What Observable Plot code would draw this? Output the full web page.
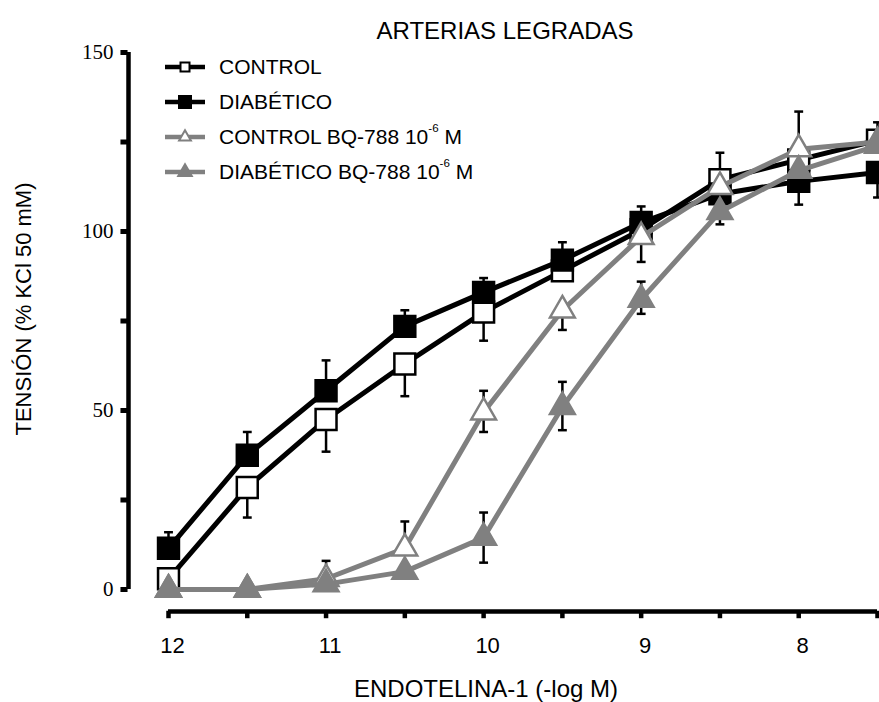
<!DOCTYPE html>
<html>
<head>
<meta charset="utf-8">
<script src="https://cdn.jsdelivr.net/npm/d3@7"></script>
<script src="https://cdn.jsdelivr.net/npm/@observablehq/plot@0.6"></script>
<style>
  html, body { margin: 0; padding: 0; background: white; overflow: hidden; }
  #wrap { position: relative; width: 879px; height: 702px; font-family: "Liberation Sans", Arial, sans-serif; }
  #legend { position: absolute; left: 160px; top: 49px; }
  .row { display: flex; align-items: center; height: 35px; font-size: 21px; color: #000; white-space: nowrap; }
  .row svg { display: block; }
  .row span.t { margin-left: 11px; }
  sup { font-size: 0.55em; position: relative; top: -0.2em; vertical-align: top; }
</style>
</head>
<body>
<div id="wrap"></div>
<script>
// ---------- data ----------
const conc = [12, 11.5, 11, 10.5, 10, 9.5, 9, 8.5, 8, 7.5];           // -log M
const xTicks = [12, 11.5, 11, 10.5, 10, 9.5, 9, 8.5, 8, 7.5];
const xTickLabels = [12, 11, 10, 9, 8];
const yTicks = [0, 25, 50, 75, 100, 125, 150];
const yTickLabels = [0, 50, 100, 150];

const seriesNames = ["CONTROL", "DIABÉTICO", "CONTROL BQ-788 10-6 M", "DIABÉTICO BQ-788 10-6 M"];

const control      = [3, 28.5, 47.5, 63, 77.5, 89, 100.5, 114.5, 120, 125.5];
const controlUp    = [0, 0, 0, 0, 0, 0, 0, 7.5, 0, 5];
const controlDown  = [0, 8.4, 9, 9, 8, 0, 0, 0, 0, 0];

const diab         = [11.5, 37.5, 55.5, 73.5, 83, 92, 102.5, 110.5, 114, 116.5];
const diabUp       = [4.5, 6.5, 8.5, 4.5, 4, 5, 4.5, 0, 0, 0];
const diabDown     = [0, 0, 0, 0, 0, 0, 0, 0, 6.5, 7];

const controlBQ     = [0, 0, 3, 11.5, 49.5, 78, 98.5, 112.5, 123, 125];
const controlBQUp   = [0, 0, 5, 7.5, 6, 0, 0, 0, 10.5, 0];
const controlBQDown = [0, 0, 0, 0, 5.5, 5.5, 7, 0, 0, 0];

const diabBQ       = [0, 0, 1.5, 5, 14.5, 51, 81, 105.5, 117, 124];
const diabBQUp     = [0, 0, 0, 0, 7, 7, 5, 0, 0, 0];
const diabBQDown   = [0, 0, 0, 0, 7, 6.5, 4, 3.5, 0, 0];

// ---------- styles ----------
const GRAY = "#808080";
const styles = [
  {stroke: "black", fill: "white", symbol: "square", r: 11.8, lw: 5},
  {stroke: "black", fill: "black", symbol: "square", r: 11.8, lw: 5},
  {stroke: GRAY, fill: "white", symbol: "triangle", r: 9.2, lw: 5},
  {stroke: GRAY, fill: GRAY, symbol: "triangle", r: 9.2, lw: 5}
];
const allSeries = [
  [control, controlUp, controlDown],
  [diab, diabUp, diabDown],
  [controlBQ, controlBQUp, controlBQDown],
  [diabBQ, diabBQUp, diabBQDown]
];

// horizontal bar symbol (error-bar caps, y-axis ticks)
const hBar = {
  draw(ctx, size) {
    const w = Math.sqrt(size);
    ctx.moveTo(-w / 2, 0);
    ctx.lineTo(w / 2, 0);
  }
};
// vertical bar symbol (x-axis ticks)
const vBar = {
  draw(ctx, size) {
    const h = Math.sqrt(size);
    ctx.moveTo(0, -h / 2);
    ctx.lineTo(0, h / 2);
  }
};

const marks = [];

// axes
marks.push(Plot.ruleX([12], {y1: 0, y2: 150, dx: -40, stroke: "black", strokeWidth: 4.5}));
marks.push(Plot.dot(yTicks, {x: () => 12, y: d => d, dx: -44.5, symbol: hBar, r: 4, stroke: "black", strokeWidth: 5}));
marks.push(Plot.text(yTickLabels, {
  x: () => 12, y: d => d, dx: -55, text: d => String(d), textAnchor: "end", lineAnchor: "middle",
  fontFamily: "'Liberation Serif', 'Times New Roman', serif", fontSize: 21, fill: "black"
}));
marks.push(Plot.ruleY([0], {x1: 12, x2: 7.5, dy: 22, stroke: "black", strokeWidth: 4.5}));
marks.push(Plot.dot(xTicks, {x: d => d, y: () => 0, dy: 25, symbol: vBar, r: 4.2, stroke: "black", strokeWidth: 4.5}));
marks.push(Plot.text(xTickLabels, {
  x: d => d, frameAnchor: "bottom", dy: 56, dx: 4, text: d => String(d), lineAnchor: "middle",
  fontSize: 22, fontFamily: "'Liberation Sans', Arial, sans-serif", fill: "black"
}));

// series
allSeries.forEach(([vals, up, down], i) => {
  const st = styles[i];
  const pts = conc.map((c, j) => ({x: c, y: vals[j], up: up[j], down: down[j]}));
  const bars = [];
  pts.forEach(p => {
    if (p.up > 0) bars.push({x: p.x, y1: p.y, y2: p.y + p.up, end: p.y + p.up});
    if (p.down > 0) bars.push({x: p.x, y1: p.y - p.down, y2: p.y, end: p.y - p.down});
  });
  marks.push(Plot.ruleX(bars, {x: "x", y1: "y1", y2: "y2", stroke: "black", strokeWidth: 2.5}));
  marks.push(Plot.dot(bars, {x: "x", y: "end", symbol: hBar, r: 5, stroke: "black", strokeWidth: 2.5, fill: "none"}));
  marks.push(Plot.line(pts, {x: "x", y: "y", stroke: st.stroke, strokeWidth: st.lw}));
  marks.push(Plot.dot(pts, {x: "x", y: "y", symbol: st.symbol, r: st.r, stroke: st.stroke, fill: st.fill, strokeWidth: 2.5}));
});

// titles
marks.push(Plot.text(["ARTERIAS LEGRADAS"], {
  frameAnchor: "top", dy: -21, dx: -18, text: d => d, fontSize: 24, lineAnchor: "middle", textAnchor: "middle",
  fontFamily: "'Liberation Sans', Arial, sans-serif", fill: "black"
}));
marks.push(Plot.text(["ENDOTELINA-1 (-log M)"], {
  frameAnchor: "bottom", dy: 100, dx: -37, text: d => d, fontSize: 24, lineAnchor: "middle", textAnchor: "middle",
  fontFamily: "'Liberation Sans', Arial, sans-serif", fill: "black"
}));
marks.push(Plot.text(["TENSIÓN (% KCl 50 mM)"], {
  frameAnchor: "left", dx: -145, dy: -12, rotate: -90, text: d => d, fontSize: 22,
  lineAnchor: "middle", textAnchor: "middle",
  fontFamily: "'Liberation Sans', Arial, sans-serif", fill: "black"
}));

const chart = Plot.plot({
  width: 879,
  height: 702,
  marginLeft: 168,
  marginRight: 2,
  marginTop: 52,
  marginBottom: 113,
  x: {domain: [12, 7.5], axis: null},
  y: {domain: [0, 150], axis: null},
  style: {background: "white", overflow: "hidden"},
  marks
});
const wrap = document.getElementById("wrap");
wrap.appendChild(chart);

// legend
const legend = document.createElement("div");
legend.id = "legend";
seriesNames.forEach((name, i) => {
  const st = styles[i];
  const row = document.createElement("div");
  row.className = "row";
  const sw = d3.create("svg").attr("width", 48).attr("height", 24);
  sw.append("line").attr("x1", 5).attr("x2", 45).attr("y1", 12).attr("y2", 12)
    .attr("stroke", st.stroke).attr("stroke-width", 4.5);
  if (st.symbol === "square") {
    const s = st.fill === "white" ? 9 : 12;
    sw.append("rect").attr("x", 25 - s / 2).attr("y", 12 - s / 2).attr("width", s).attr("height", s)
      .attr("fill", st.fill).attr("stroke", st.stroke).attr("stroke-width", 2);
  } else {
    sw.append("path").attr("transform", "translate(25,12)")
      .attr("d", d3.symbol(d3.symbolTriangle, st.fill === "white" ? 60 : 80)())
      .attr("fill", st.fill).attr("stroke", st.stroke).attr("stroke-width", 2);
  }
  row.appendChild(sw.node());
  const t = document.createElement("span");
  t.className = "t";
  const m = name.match(/^(.*10)(-6)( M)$/);
  if (m) {
    t.append(m[1]);
    const sup = document.createElement("sup");
    sup.textContent = m[2];
    t.append(sup);
    t.append(m[3]);
  } else {
    t.textContent = name;
  }
  row.appendChild(t);
  legend.appendChild(row);
});
wrap.appendChild(legend);
</script>
</body>
</html>
